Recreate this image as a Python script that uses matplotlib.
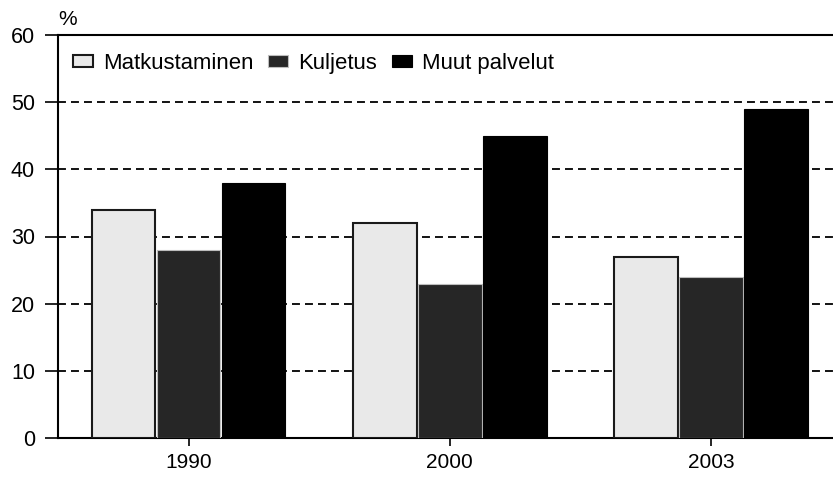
import matplotlib
matplotlib.use("Agg")
import matplotlib.pyplot as plt
import numpy as np

plt.rcParams['font.family'] = ['Liberation Sans', 'DejaVu Sans']

years = ['1990', '2000', '2003']
series_names = ['Matkustaminen', 'Kuljetus', 'Muut palvelut']
matkustaminen = [34, 32, 27]
kuljetus = [28, 23, 24]
muut = [38, 45, 49]
yticks = [0, 10, 20, 30, 40, 50, 60]

fig = plt.figure(figsize=(8.33, 4.79), dpi=100)
ax = fig.add_axes([58/833, 41/479, 1 - 58/833, (438-35)/479])

x = np.arange(len(years))
w = 0.243
off = 0.249
styles = [
    dict(facecolor='#e9e9e9', edgecolor='#1a1a1a', linewidth=1.5),
    dict(facecolor='#262626', edgecolor='#bdbdbd', linewidth=0.8),
    dict(facecolor='#000000', edgecolor='#000000', linewidth=0.8),
]
for i, (vals, name) in enumerate(zip([matkustaminen, kuljetus, muut], series_names)):
    ax.bar(x + (i - 1) * off, vals, width=w, label=name, zorder=3, **styles[i])

ax.set_xlim(-0.5, 2.467)
ax.set_ylim(0, 60)
ax.set_yticks(yticks)
ax.set_xticks(x)
ax.set_xticklabels(years)

for v in yticks[1:-1]:
    ax.axhline(v, color='black', linewidth=1.3, linestyle=(0, (4.4, 2.8)), zorder=1)

for s in ['left', 'bottom', 'top']:
    ax.spines[s].set_linewidth(1.5)
    ax.spines[s].set_color('black')
ax.spines['right'].set_visible(False)

ax.tick_params(axis='y', length=9.5, width=1.2, labelsize=15.5, pad=7)
ax.tick_params(axis='x', length=6, width=1.2, labelsize=15, pad=5)

ax.text(0.0, 1.025, '%', transform=ax.transAxes, fontsize=15, ha='left', va='baseline')

leg = ax.legend(loc='center left', ncol=3, frameon=False,
                fontsize=15.9, handlelength=0.9, handleheight=0.45, handletextpad=0.45,
                columnspacing=0.68, borderaxespad=0.0, borderpad=0.0)
leg.set_bbox_to_anchor((15/775, 0.93), transform=ax.transAxes)

fig.savefig('out.png', dpi=100)
